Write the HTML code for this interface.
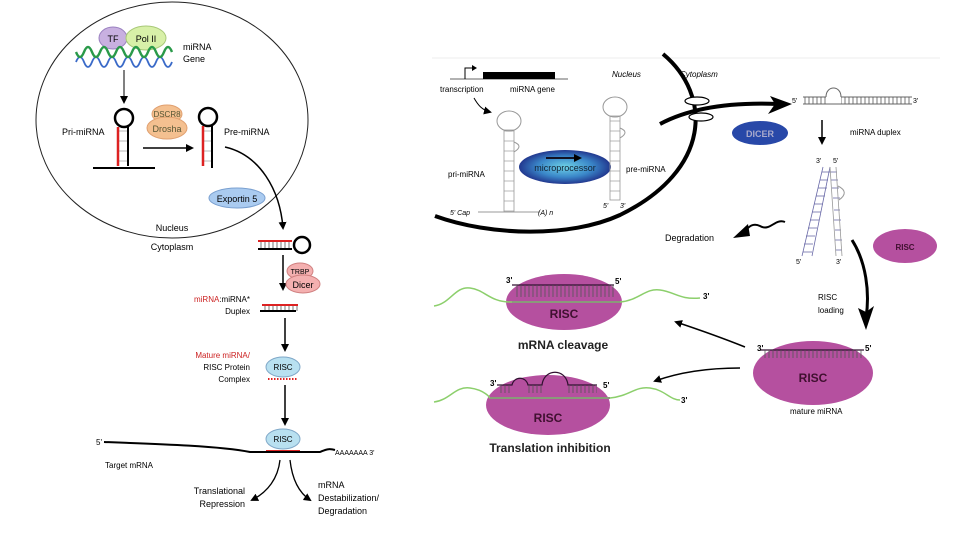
<!DOCTYPE html>
<html><head><meta charset="utf-8"><style>
body{margin:0;background:#fff}
svg{display:block;font-family:"Liberation Sans",sans-serif}
</style></head><body>
<svg width="960" height="540" viewBox="0 0 960 540" xmlns="http://www.w3.org/2000/svg">
<defs>
<marker id="ah" markerWidth="8" markerHeight="8" refX="6" refY="4" orient="auto" markerUnits="userSpaceOnUse"><path d="M0,0 L8,4 L0,8 z" fill="#000"/></marker>
<radialGradient id="mp" cx="50%" cy="50%" r="50%"><stop offset="0" stop-color="#6fd4e8"/><stop offset="0.6" stop-color="#3a86c8"/><stop offset="1" stop-color="#22388f"/></radialGradient>
<pattern id="lad" width="4" height="10" patternUnits="userSpaceOnUse"><line x1="1" y1="0" x2="1" y2="10" stroke="#555" stroke-width="0.8"/></pattern>
<pattern id="ladr" width="3" height="10" patternUnits="userSpaceOnUse"><line x1="0" y1="1" x2="10" y2="1" stroke="#888" stroke-width="0.6"/></pattern>
</defs>

<!-- LEFT PANEL -->
<ellipse cx="172" cy="120" rx="136" ry="118" fill="none" stroke="#222" stroke-width="1"/>
<ellipse cx="113" cy="38" rx="14" ry="11" fill="#c8b0e0" stroke="#9a80c0"/>
<ellipse cx="146" cy="38" rx="20" ry="12" fill="#d8f0a8" stroke="#a8c878"/>
<text x="113" y="42" font-size="9" text-anchor="middle">TF</text>
<text x="146" y="42" font-size="9" text-anchor="middle">Pol II</text>
<path d="M76,62 Q80,52 84,62 T92,62 T100,62 T108,62 T116,62 T124,62 T132,62 T140,62 T148,62 T156,62 T164,62 T172,62" fill="none" stroke="#3a6ac8" stroke-width="1.8"/>
<path d="M76,52 Q80,62 84,52 T92,52 T100,52 T108,52 T116,52 T124,52 T132,52 T140,52 T148,52 T156,52 T164,52 T172,52" fill="none" stroke="#2a9a4a" stroke-width="2.4"/>
<text x="183" y="50" font-size="9">miRNA</text>
<text x="183" y="62" font-size="9">Gene</text>
<line x1="124" y1="70" x2="124" y2="102" stroke="#000" stroke-width="1" marker-end="url(#ah)"/>
<circle cx="124" cy="118" r="9" fill="none" stroke="#000" stroke-width="2.5"/>
<rect x="118" y="127" width="10" height="38" fill="url(#ladr)"/>
<line x1="118" y1="127" x2="118" y2="166" stroke="#d22" stroke-width="2.5"/>
<line x1="128" y1="127" x2="128" y2="166" stroke="#000" stroke-width="2"/>
<line x1="93" y1="168" x2="155" y2="168" stroke="#000" stroke-width="2"/>
<text x="62" y="135" font-size="9">Pri-miRNA</text>
<ellipse cx="167" cy="114" rx="15" ry="9" fill="#f4c090" stroke="#e0a070"/>
<ellipse cx="167" cy="128" rx="20" ry="11" fill="#f4c090" stroke="#e0a070"/>
<text x="167" y="117" font-size="8" text-anchor="middle" fill="#553">DSCR8</text>
<text x="167" y="132" font-size="9" text-anchor="middle" fill="#553">Drosha</text>
<line x1="143" y1="148" x2="192" y2="148" stroke="#000" stroke-width="1.5" marker-end="url(#ah)"/>
<circle cx="208" cy="117" r="9" fill="none" stroke="#000" stroke-width="2.5"/>
<rect x="203" y="126" width="8" height="40" fill="url(#ladr)"/>
<line x1="203" y1="126" x2="203" y2="166" stroke="#d22" stroke-width="2.5"/>
<line x1="212" y1="126" x2="212" y2="168" stroke="#000" stroke-width="2"/>
<text x="224" y="135" font-size="9">Pre-miRNA</text>
<path d="M225,147 C260,155 280,190 283,228" fill="none" stroke="#000" stroke-width="1.5" marker-end="url(#ah)"/>
<ellipse cx="237" cy="198" rx="28" ry="10" fill="#aacbf0" stroke="#7aa0d0"/>
<text x="237" y="202" font-size="9" text-anchor="middle">Exportin 5</text>
<text x="172" y="231" font-size="9" text-anchor="middle">Nucleus</text>
<text x="172" y="250" font-size="9" text-anchor="middle">Cytoplasm</text>
<rect x="258" y="242" width="34" height="6" fill="url(#lad)"/>
<line x1="258" y1="241" x2="292" y2="241" stroke="#d22" stroke-width="2"/>
<line x1="258" y1="249" x2="292" y2="249" stroke="#000" stroke-width="2"/>
<circle cx="302" cy="245" r="8" fill="none" stroke="#000" stroke-width="2.5"/>
<line x1="283" y1="255" x2="283" y2="289" stroke="#000" stroke-width="1.5" marker-end="url(#ah)"/>
<ellipse cx="300" cy="271" rx="13" ry="8" fill="#f4b0b0" stroke="#d08080"/>
<ellipse cx="303" cy="284" rx="17" ry="9" fill="#f4b0b0" stroke="#d08080"/>
<text x="300" y="274" font-size="7" text-anchor="middle">TRBP</text>
<text x="303" y="288" font-size="9" text-anchor="middle">Dicer</text>
<text x="250" y="302" font-size="8" text-anchor="end"><tspan fill="#c22">miRNA</tspan>:miRNA*</text>
<text x="250" y="314" font-size="8" text-anchor="end">Duplex</text>
<rect x="262" y="305" width="36" height="6" fill="url(#lad)"/>
<line x1="262" y1="305" x2="298" y2="305" stroke="#d22" stroke-width="2"/>
<line x1="260" y1="311" x2="296" y2="311" stroke="#000" stroke-width="2"/>
<line x1="285" y1="318" x2="285" y2="350" stroke="#000" stroke-width="1.5" marker-end="url(#ah)"/>
<text x="250" y="358" font-size="8" text-anchor="end" fill="#c22">Mature miRNA/</text>
<text x="250" y="370" font-size="8" text-anchor="end">RISC Protein</text>
<text x="250" y="382" font-size="8" text-anchor="end">Complex</text>
<ellipse cx="283" cy="367" rx="17" ry="10" fill="#b8e0f0" stroke="#80a8c8"/>
<text x="283" y="370" font-size="8" text-anchor="middle">RISC</text>
<line x1="268" y1="379" x2="298" y2="379" stroke="#d22" stroke-width="2" stroke-dasharray="1.5 1.5"/>
<line x1="285" y1="385" x2="285" y2="424" stroke="#000" stroke-width="1.5" marker-end="url(#ah)"/>
<ellipse cx="283" cy="439" rx="17" ry="10" fill="#b8e0f0" stroke="#80a8c8"/>
<text x="283" y="442" font-size="8" text-anchor="middle">RISC</text>
<line x1="266" y1="451" x2="300" y2="451" stroke="#d22" stroke-width="2"/>
<path d="M104,442 C160,444 220,446 250,452 L320,452 C325,450 328,448 335,450" fill="none" stroke="#000" stroke-width="2"/>
<text x="96" y="445" font-size="8">5'</text>
<text x="335" y="455" font-size="7">AAAAAAA 3'</text>
<text x="105" y="468" font-size="8">Target mRNA</text>
<path d="M280,460 C278,478 268,492 252,500" fill="none" stroke="#000" stroke-width="1.3" marker-end="url(#ah)"/>
<path d="M290,460 C292,478 298,492 310,500" fill="none" stroke="#000" stroke-width="1.3" marker-end="url(#ah)"/>
<text x="245" y="494" font-size="9" text-anchor="end">Translational</text>
<text x="245" y="507" font-size="9" text-anchor="end">Repression</text>
<text x="318" y="488" font-size="9">mRNA</text>
<text x="318" y="501" font-size="9">Destabilization/</text>
<text x="318" y="514" font-size="9">Degradation</text>

<!-- RIGHT PANEL -->
<line x1="432" y1="58" x2="940" y2="58" stroke="#eee" stroke-width="1"/>
<path d="M663,54 C712,95 712,170 620,215 C570,238 490,236 435,216" fill="none" stroke="#000" stroke-width="4"/>
<line x1="450" y1="79" x2="568" y2="79" stroke="#999" stroke-width="1.5"/>
<rect x="483" y="72" width="72" height="7" fill="#000"/>
<path d="M465,79 L465,68 L472,68" fill="none" stroke="#000" stroke-width="1"/>
<path d="M472,65 L477,68 L472,71z" fill="#000"/>
<text x="440" y="92" font-size="8">transcription</text>
<text x="510" y="92" font-size="8">miRNA gene</text>
<text x="612" y="77" font-size="8" font-style="italic">Nucleus</text>
<text x="680" y="77" font-size="8" font-style="italic">Cytoplasm</text>
<path d="M474,98 C478,105 482,110 490,112" fill="none" stroke="#000" stroke-width="1" marker-end="url(#ah)"/>
<ellipse cx="509" cy="121" rx="12" ry="10" fill="none" stroke="#999"/>
<rect x="504" y="130" width="10" height="82" fill="url(#ladr)" stroke="#999" stroke-width="0.8"/>
<path d="M514,142 Q524,146 514,152" fill="none" stroke="#999"/>
<line x1="478" y1="212" x2="540" y2="212" stroke="#999" stroke-width="1"/>
<text x="448" y="177" font-size="8">pri-miRNA</text>
<text x="450" y="215" font-size="7" font-style="italic">5' Cap</text>
<text x="538" y="215" font-size="7" font-style="italic">(A) n</text>
<ellipse cx="565" cy="167" rx="46" ry="17" fill="url(#mp)"/>
<line x1="546" y1="158" x2="580" y2="158" stroke="#112" stroke-width="2" marker-end="url(#ah)"/>
<text x="565" y="171" font-size="9" text-anchor="middle" fill="#123">microprocessor</text>
<ellipse cx="615" cy="107" rx="12" ry="10" fill="none" stroke="#999"/>
<rect x="610" y="116" width="10" height="84" fill="url(#ladr)" stroke="#999" stroke-width="0.8"/>
<path d="M620,128 Q630,132 620,138" fill="none" stroke="#999"/>
<text x="626" y="172" font-size="8">pre-miRNA</text>
<text x="603" y="208" font-size="7" font-style="italic">5'</text>
<text x="620" y="208" font-size="7" font-style="italic">3'</text>
<path d="M660,124 C690,108 730,102 778,104" fill="none" stroke="#000" stroke-width="4"/>
<path d="M770,96 L792,104 L768,114 L775,104z" fill="#000"/>
<ellipse cx="697" cy="101" rx="12" ry="4" fill="#fff" stroke="#000" stroke-width="1.2"/>
<ellipse cx="701" cy="117" rx="12" ry="4" fill="#fff" stroke="#000" stroke-width="1.2"/>
<ellipse cx="760" cy="133" rx="28" ry="12" fill="#2848a8"/>
<text x="760" y="137" font-size="9" font-weight="bold" text-anchor="middle" fill="#aac">DICER</text>
<text x="792" y="103" font-size="7">5'</text>
<line x1="803" y1="104" x2="912" y2="104" stroke="#666"/>
<line x1="803" y1="97" x2="826" y2="97" stroke="#666"/>
<line x1="841" y1="97" x2="912" y2="97" stroke="#666"/>
<rect x="803" y="97" width="23" height="7" fill="url(#lad)"/>
<rect x="841" y="97" width="71" height="7" fill="url(#lad)"/>
<path d="M826,97 C826,85 841,85 841,97" fill="none" stroke="#666"/>
<text x="913" y="103" font-size="7">3'</text>
<text x="850" y="135" font-size="8">miRNA duplex</text>
<line x1="822" y1="120" x2="822" y2="143" stroke="#000" stroke-width="1.5" marker-end="url(#ah)"/>
<text x="816" y="163" font-size="7">3'</text>
<text x="833" y="163" font-size="7">5'</text>
<path d="M823,167 L802,256 M830,167 L812,256" stroke="#6a6aa8" fill="none" stroke-width="0.8"/>
<g stroke="#6a6aa8" stroke-width="0.8">
<line x1="822" y1="172" x2="830" y2="172"/><line x1="820" y1="180" x2="828" y2="180"/><line x1="818" y1="188" x2="827" y2="188"/><line x1="816" y1="196" x2="825" y2="196"/><line x1="814" y1="204" x2="823" y2="204"/><line x1="812" y1="212" x2="821" y2="212"/><line x1="810" y1="220" x2="819" y2="220"/><line x1="808" y1="228" x2="817" y2="228"/><line x1="806" y1="236" x2="815" y2="236"/><line x1="804" y1="244" x2="813" y2="244"/><line x1="803" y1="252" x2="812" y2="252"/>
<line x1="830" y1="172" x2="837" y2="172"/><line x1="831" y1="180" x2="838" y2="180"/><line x1="832" y1="188" x2="839" y2="188"/><line x1="833" y1="198" x2="840" y2="198"/><line x1="834" y1="210" x2="840" y2="210"/><line x1="834" y1="220" x2="841" y2="220"/><line x1="835" y1="230" x2="841" y2="230"/><line x1="835" y1="240" x2="842" y2="240"/><line x1="836" y1="250" x2="842" y2="250"/>
</g>
<path d="M836,167 L842,256 M830,167 L836,256" stroke="#999" fill="none" stroke-width="0.8"/>
<path d="M838,186 Q850,192 839,200" fill="none" stroke="#999"/>
<text x="796" y="264" font-size="7">5'</text>
<text x="836" y="264" font-size="7">3'</text>
<text x="665" y="241" font-size="9">Degradation</text>
<path d="M785,222 C775,218 770,232 760,226 C752,222 748,228 744,232" fill="none" stroke="#000" stroke-width="2"/>
<path d="M733,238 L748,224 L750,236z" fill="#000"/>
<ellipse cx="905" cy="246" rx="32" ry="17" fill="#b5509f"/>
<text x="905" y="250" font-size="8" font-weight="bold" text-anchor="middle" fill="#401030">RISC</text>
<path d="M852,240 C866,262 870,292 866,318" fill="none" stroke="#000" stroke-width="3"/>
<path d="M858,308 L866,330 L874,306 L866,312z" fill="#000"/>
<text x="818" y="300" font-size="8">RISC</text>
<text x="818" y="313" font-size="8">loading</text>
<ellipse cx="813" cy="373" rx="60" ry="32" fill="#b5509f"/>
<line x1="760" y1="350" x2="864" y2="350" stroke="#301030" stroke-width="1.2"/>
<rect x="762" y="350" width="100" height="8" fill="url(#lad)"/>
<text x="757" y="351" font-size="8" font-weight="bold">3'</text>
<text x="865" y="351" font-size="8" font-weight="bold">5'</text>
<text x="813" y="382" font-size="12" font-weight="bold" text-anchor="middle" fill="#401030">RISC</text>
<text x="790" y="414" font-size="8">mature miRNA</text>
<path d="M745,347 C720,337 700,330 676,322" fill="none" stroke="#000" stroke-width="1.5" marker-end="url(#ah)"/>
<path d="M740,368 C710,368 680,372 655,381" fill="none" stroke="#000" stroke-width="1.5" marker-end="url(#ah)"/>
<ellipse cx="564" cy="302" rx="58" ry="28" fill="#b5509f"/>
<path d="M434,306 C450,304 455,286 470,288 C485,290 490,302 510,302 L620,302 C640,300 645,288 660,290 C675,292 680,300 700,298" fill="none" stroke="#8ccf6c" stroke-width="1.5"/>
<line x1="512" y1="302" x2="620" y2="302" stroke="#8a9a7a" stroke-width="2"/>
<line x1="512" y1="285" x2="614" y2="285" stroke="#301030" stroke-width="1.2"/>
<rect x="514" y="285" width="100" height="12" fill="url(#lad)"/>
<text x="506" y="283" font-size="8" font-weight="bold">3'</text>
<text x="615" y="284" font-size="8" font-weight="bold">5'</text>
<text x="703" y="299" font-size="8" font-weight="bold">3'</text>
<text x="564" y="318" font-size="12" font-weight="bold" text-anchor="middle" fill="#401030">RISC</text>
<text x="563" y="349" font-size="12" font-weight="bold" text-anchor="middle" fill="#222">mRNA cleavage</text>
<ellipse cx="548" cy="405" rx="62" ry="30" fill="#b5509f"/>
<path d="M434,402 C450,400 455,386 470,388 C485,390 490,398 490,398 L610,398 C630,396 635,386 650,388 C665,390 670,400 680,400" fill="none" stroke="#8ccf6c" stroke-width="1.5"/>
<line x1="490" y1="398" x2="610" y2="398" stroke="#8a9a7a" stroke-width="2"/>
<path d="M497,385 L512,385 C514,376 526,376 528,385 L542,385 C544,368 566,368 568,385 L597,385" fill="none" stroke="#301030" stroke-width="1.2"/>
<rect x="498" y="385" width="14" height="8" fill="url(#lad)"/>
<rect x="528" y="385" width="14" height="8" fill="url(#lad)"/>
<rect x="568" y="385" width="29" height="8" fill="url(#lad)"/>
<text x="490" y="386" font-size="8" font-weight="bold">3'</text>
<text x="603" y="388" font-size="8" font-weight="bold">5'</text>
<text x="681" y="403" font-size="8" font-weight="bold">3'</text>
<text x="548" y="422" font-size="12" font-weight="bold" text-anchor="middle" fill="#401030">RISC</text>
<text x="550" y="452" font-size="12" font-weight="bold" text-anchor="middle" fill="#222">Translation inhibition</text>
</svg>
</body></html>
